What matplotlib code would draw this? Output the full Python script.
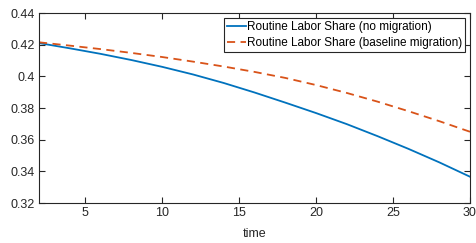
import matplotlib
matplotlib.use("Agg")
import matplotlib.pyplot as plt

# time grid and the two routine labor share series
time = [2, 4, 6, 8, 10, 12, 14, 16, 18, 20, 22, 24, 26, 28, 30]
share_no_migration = [0.4210, 0.4177, 0.4142, 0.4103, 0.4060, 0.4012, 0.3958, 0.3898,
                      0.3834, 0.3768, 0.3698, 0.3622, 0.3542, 0.3457, 0.3366]
share_baseline = [0.4215, 0.4194, 0.4172, 0.4148, 0.4122, 0.4093, 0.4062, 0.4028,
                  0.3990, 0.3945, 0.3895, 0.3840, 0.3780, 0.3717, 0.3650]

x_ticks = [5, 10, 15, 20, 25, 30]
y_ticks = [0.32, 0.34, 0.36, 0.38, 0.40, 0.42, 0.44]
y_tick_labels = ["0.32", "0.34", "0.36", "0.38", "0.4", "0.42", "0.44"]

plt.rcParams["font.family"] = ["Liberation Sans", "DejaVu Sans"]
axis_color = "#262626"

fig = plt.figure(figsize=(4.77, 2.43), dpi=100)
ax = fig.add_axes([0.0818, 0.1646, 0.9035, 0.7819])

ax.plot(time, share_no_migration, color="#0072BD", linewidth=1.3,
        label="Routine Labor Share (no migration)")
ax.plot(time, share_baseline, color="#D95319", linewidth=1.3, linestyle=(0, (4.5, 3)),
        label="Routine Labor Share (baseline migration)")

ax.set_xlim(2, 30)
ax.set_ylim(0.32, 0.44)
ax.set_xticks(x_ticks)
ax.set_yticks(y_ticks)
ax.set_yticklabels(y_tick_labels)
ax.tick_params(direction="in", top=True, right=True, length=4, width=0.8,
               colors=axis_color, labelsize=9, pad=3)
for spine in ax.spines.values():
    spine.set_color(axis_color)
    spine.set_linewidth(0.8)

ax.set_xlabel("time", fontsize=9, color=axis_color, labelpad=6)

leg = ax.legend(loc="upper right", fontsize=8.5, frameon=True, fancybox=False,
                edgecolor=axis_color, framealpha=1, handlelength=1.6,
                handletextpad=0.1, borderpad=0.25, labelspacing=0.35,
                borderaxespad=0.4)
leg.get_frame().set_linewidth(0.8)

fig.savefig("out.png", dpi=100)
